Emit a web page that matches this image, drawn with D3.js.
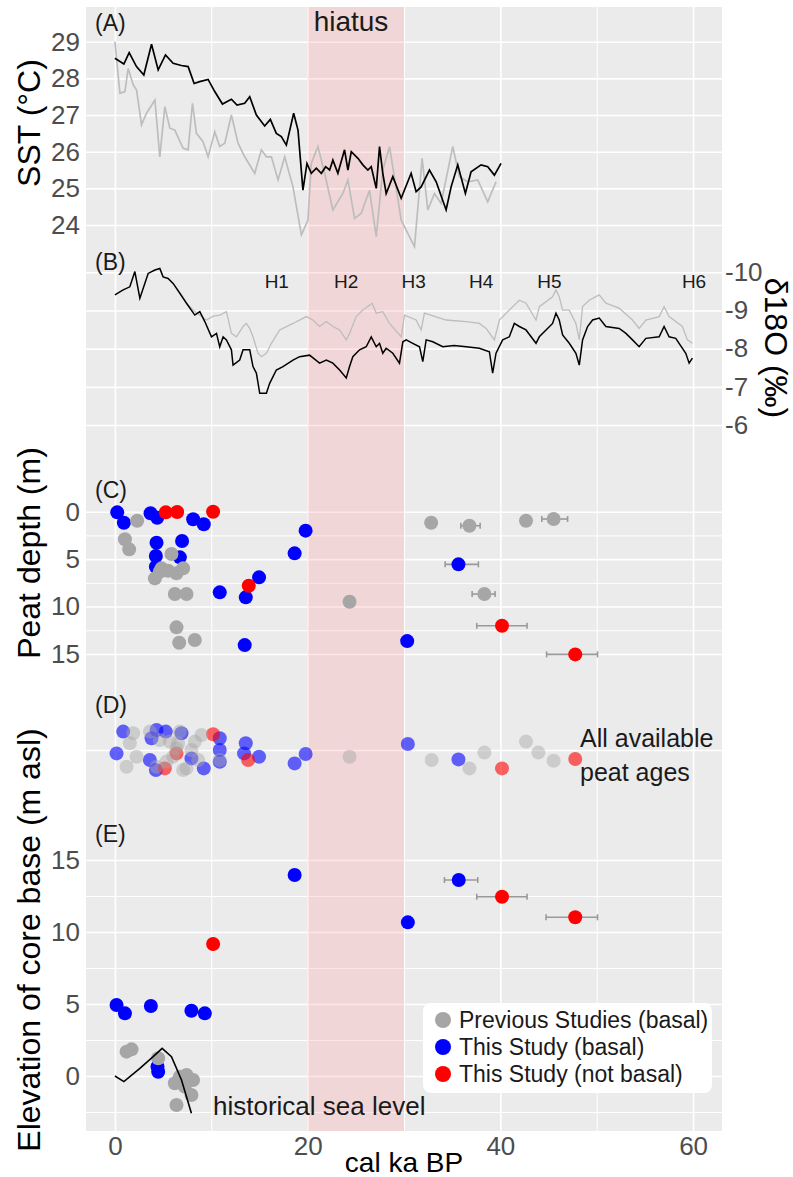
<!DOCTYPE html>
<html>
<head>
<meta charset="utf-8">
<script src="https://cdn.jsdelivr.net/npm/d3@7"></script>
<style>
  body { margin: 0; background: #fff; }
  svg text { font-family: "Liberation Sans", Arial, Helvetica, sans-serif; }
</style>
</head>
<body>
<div id="chart"></div>
<script>
// ---- data ----
// (A) SST, [age ka, degC]
const sstMain = [[0,28.55],[0.93,28.39],[1.48,28.7],[2.24,28.32],[3.0,28.09],[3.8,28.93],[4.49,28.23],[5.25,28.64],[6.04,28.41],[6.9,28.35],[7.6,28.32],[8.22,27.86],[8.8,27.91],[9.67,27.97],[10.36,27.64],[11.16,27.3],[12.09,27.43],[12.67,27.27],[13.47,27.32],[13.99,27.5],[14.68,27.0],[15.54,26.7],[16.13,26.88],[16.75,26.5],[17.27,26.41],[17.79,26.18],[18.55,27.05],[19.0,26.59],[19.51,24.95],[19.93,25.68],[20.38,25.41],[20.9,25.55],[21.42,25.41],[21.87,25.59],[22.28,25.5],[22.62,25.77],[23.14,25.41],[23.83,26.05],[24.18,25.5],[24.53,26.0],[25.22,25.82],[25.73,25.64],[26.25,25.5],[26.6,25.59],[27.12,25.0],[27.46,26.14],[27.8,25.41],[28.15,24.86],[28.84,25.32],[29.71,24.73],[30.74,25.41],[31.26,24.91],[31.78,25.04],[32.64,25.5],[33.34,25.18],[34.37,24.41],[34.89,25.04],[35.58,25.64],[36.37,24.86],[36.96,25.45],[38.0,25.64],[38.69,25.59],[39.38,25.36],[40.07,25.68]];
const sstAlt = [[0,29.0],[0.52,27.59],[1.04,27.64],[1.38,28.27],[1.9,27.82],[2.25,27.68],[2.76,26.73],[3.28,27.05],[4.15,27.41],[4.66,25.86],[5.18,27.23],[5.7,26.64],[6.22,26.59],[7.08,26.09],[7.6,26.05],[8.05,27.32],[8.46,26.5],[9.15,26.27],[9.67,25.86],[10.36,26.54],[10.88,26.14],[11.4,26.23],[12.09,27.0],[12.78,26.23],[13.47,25.86],[14.51,25.41],[15.2,26.05],[15.72,25.86],[16.24,25.86],[16.93,25.23],[17.62,25.86],[18.48,25.04],[19.35,23.73],[20.03,24.13],[20.38,25.68],[21.07,26.14],[21.76,25.41],[22.62,24.41],[23.66,24.86],[24.18,25.23],[24.87,24.18],[25.56,24.32],[26.42,24.95],[27.12,23.68],[27.8,25.5],[28.5,26.14],[29.71,24.13],[31.09,23.41],[31.88,25.82],[32.47,24.41],[33.16,24.86],[33.85,24.59],[35.06,26.14],[35.75,25.32],[36.61,25.18],[37.65,25.23],[38.69,24.63],[39.55,25.18]];

// (B) d18O, [age ka, permil]
const d18oMain = [[0,-9.41],[0.86,-9.54],[1.55,-9.62],[2.07,-10.02],[2.59,-9.32],[3.45,-9.97],[4.15,-10.06],[4.66,-10.1],[5.0,-9.88],[5.52,-9.84],[6.04,-9.71],[6.74,-9.45],[7.43,-9.19],[8.29,-8.88],[8.81,-8.97],[9.33,-8.71],[10.02,-8.31],[10.54,-8.4],[10.88,-8.05],[11.23,-8.31],[11.57,-8.23],[12.09,-7.97],[12.26,-7.57],[12.95,-7.7],[13.3,-7.97],[13.99,-7.97],[14.33,-7.53],[14.68,-7.36],[15.03,-6.83],[15.72,-6.83],[16.06,-7.09],[16.75,-7.44],[17.44,-7.53],[18.48,-7.7],[19.17,-7.79],[20.2,-7.83],[21.24,-7.62],[21.94,-7.7],[22.62,-7.62],[23.32,-7.44],[24.01,-7.23],[24.35,-7.53],[24.69,-7.79],[25.39,-7.97],[26.08,-8.05],[26.6,-8.31],[27.12,-8.05],[27.46,-8.14],[27.8,-7.88],[28.15,-8.01],[28.84,-7.88],[29.53,-7.62],[29.88,-8.18],[30.23,-8.23],[30.91,-8.14],[31.61,-8.05],[31.95,-7.66],[32.3,-8.23],[32.99,-8.18],[34.02,-8.05],[35.2,-8.08],[36.45,-8.05],[37.82,-8.01],[38.86,-7.92],[39.2,-7.36],[39.55,-7.88],[40.24,-8.23],[40.93,-8.31],[41.45,-8.66],[41.97,-8.58],[42.66,-8.49],[43.7,-8.14],[44.04,-8.31],[44.74,-8.49],[45.42,-8.66],[45.77,-8.93],[46.11,-8.75],[46.46,-8.36],[47.15,-8.14],[47.84,-7.88],[48.19,-7.57],[48.53,-8.23],[49.05,-8.58],[49.57,-8.75],[50.26,-8.8],[50.95,-8.58],[52.33,-8.53],[53.03,-8.4],[53.71,-8.23],[54.4,-8.05],[55.1,-8.27],[56.48,-8.31],[56.99,-8.58],[57.51,-8.31],[58.2,-8.27],[59.24,-7.88],[59.59,-7.62],[59.93,-7.75]];
const d18oAlt = [[7.43,-9.19],[8.29,-8.97],[9.5,-8.75],[10.2,-8.85],[10.88,-8.88],[11.57,-8.97],[12.09,-8.4],[12.61,-8.31],[13.3,-8.58],[13.64,-8.66],[13.99,-8.53],[14.33,-8.31],[14.85,-7.88],[15.2,-7.79],[15.72,-7.88],[16.24,-8.14],[17.1,-8.49],[18.48,-8.66],[19.86,-8.84],[20.55,-8.75],[21.24,-8.58],[21.94,-8.71],[22.62,-8.58],[23.32,-8.49],[24.01,-8.23],[24.35,-8.4],[25.04,-8.84],[25.73,-9.01],[26.7,-9.19],[27.12,-8.93],[27.8,-8.97],[28.5,-8.66],[29.71,-8.31],[30.05,-8.88],[31.26,-8.75],[31.78,-8.49],[32.12,-8.93],[34.37,-8.75],[36.45,-8.71],[37.82,-8.66],[38.52,-8.53],[39.38,-8.23],[39.9,-8.75],[41.45,-9.14],[41.97,-9.27],[42.66,-9.19],[43.7,-8.75],[44.04,-9.1],[45.42,-9.36],[45.77,-9.54],[46.11,-9.36],[46.46,-9.01],[47.15,-9.01],[47.84,-8.66],[48.19,-8.23],[48.53,-9.1],[49.22,-9.27],[50.26,-9.41],[50.95,-9.19],[52.33,-9.06],[53.71,-8.75],[54.4,-8.53],[55.1,-8.75],[56.48,-8.84],[56.99,-9.1],[57.51,-8.84],[58.89,-8.58],[59.41,-8.23],[59.93,-8.14]];
const heinrichNames = ["H1", "H2", "H3", "H4", "H5", "H6"];
const heinrichAges = [16.8, 24.0, 31.0, 38.0, 45.1, 60.1];

// (C) peat depth, [age ka, depth m, (age min, age max)]
const depthPrev = [[2.31,0.95],[1.04,2.91],[1.48,3.97],[5.87,4.46],[4.84,5.97],[5.52,6.22],[6.39,6.5],[7.08,5.97],[4.15,7.03],[4.66,6.33],[6.22,8.68],[7.43,8.68],[6.39,12.19],[6.67,13.82],[8.29,13.53],[24.35,9.49],[32.82,1.16],[36.79,1.48,35.9,37.9],[42.66,0.95],[45.53,0.77,44.3,46.98],[38.34,8.68,37.07,39.45]];
const depthBasal = [[0.24,0.07],[0.93,1.16],[3.7,0.17],[4.39,0.63],[8.12,0.8],[9.22,1.33],[4.32,3.27],[6.97,3.09],[4.25,4.67],[6.74,4.81],[4.25,5.8],[19.79,2.0],[18.65,4.39],[14.96,6.92],[10.88,8.5],[13.58,9.03],[13.47,14.06],[30.33,13.64],[35.65,5.55,34.27,37.72]];
const depthNotBasal = [[5.28,0.07],[6.46,0.03],[10.19,0],[13.89,7.8],[40.17,12.03,37.55,42.77],[47.77,15.04,44.8,50.08]];

// (D) all ages, [age ka, vertical jitter -1..1]
const allPrev = [[1.21,-0.84],[1.55,0.34],[1.9,0.84],[2.25,-0.34],[3.63,0.92],[4.66,0.5],[4.32,-0.84],[5.35,-0.58],[5.7,0.42],[6.04,-0.33],[6.39,0.08],[6.56,0.33],[6.74,0.92],[7.08,-1.0],[7.43,-0.92],[7.94,0],[8.29,0.42],[8.64,-0.5],[8.98,0.75],[10.88,-0.5],[24.35,-0.34],[32.87,-0.5],[36.79,-0.92],[38.34,-0.13],[42.66,0.42],[43.94,-0.13],[45.53,-0.54]];
const allBasal = [[0.86,0.92],[0.17,-0.17],[4.32,1.0],[5.28,0.92],[6.91,0.84],[3.8,0.59],[3.63,-0.5],[4.25,-1.0],[7.94,-0.42],[9.22,-0.92],[10.88,0.59],[10.88,0],[10.88,-0.59],[13.58,0.34],[13.4,-0.17],[14.96,-0.34],[18.65,-0.67],[19.79,-0.2],[30.4,0.3],[35.65,-0.47]];
const allNotBasal = [[10.19,0.79],[13.82,-0.5],[6.39,-0.17],[5.18,-0.92],[40.17,-0.92],[47.77,-0.45]];

// (E) elevation of core base, [age ka, m asl, (age min, age max)]
const elevPrev = [[1.21,1.69],[1.73,1.85],[4.49,1.23],[6.74,-0.05],[8.11,-0.28],[7.25,-0.74],[7.94,-1.32],[6.39,-2.01],[6.22,-0.5],[7.43,0.07]];
const elevBasal = [[0.17,4.93],[1.04,4.35],[3.73,4.86],[7.94,4.53],[9.33,4.35],[4.42,0.65],[4.49,0.3],[18.65,13.96],[30.4,10.67],[35.68,13.61,34.2,37.65]];
const elevNotBasal = [[10.19,9.17],[40.17,12.45,37.55,42.77],[47.77,11.02,44.74,50.08]];
const seaLevel = [[0,0],[0.93,-0.39],[2.59,0.53],[3.97,1.34],[4.9,1.92],[5.87,1.34],[6.91,-0.28],[7.94,-2.59]];

const hiatus = [20, 30];
const xTicks = [0, 20, 40, 60];
const xMinor = [10, 30, 50];
const sstTicks = [24, 25, 26, 27, 28, 29];
const d18oTicks = [-10, -9, -8, -7, -6];
const depthTicks = [0, 5, 10, 15];
const depthMinor = [2.5, 7.5, 12.5];
const elevTicks = [0, 5, 10, 15];
const elevMinor = [-2.5, 2.5, 7.5, 12.5];
const legendLabels = ["Previous Studies (basal)", "This Study (basal)", "This Study (not basal)"];
const colors = {prev: "#a6a6a6", basal: "#0000ff", notBasal: "#ff0000"};

// ---- layout ----
const width = 793, height = 1177;
const plot = {left: 86, right: 722, top: 7, bottom: 1131};
const innerW = plot.right - plot.left;

const x = d3.scaleLinear().domain([-3, 63]).range([plot.left, plot.right]);
const ySST = d3.scaleLinear().domain([24, 29]).range([225, 41.7]);
const yO = d3.scaleLinear().domain([-10, -6]).range([272.3, 425]);
const yDepth = d3.scaleLinear().domain([0, 15]).range([511.7, 654]);
const yJit = d3.scaleLinear().domain([-1, 1]).range([770, 730]);
const yElev = d3.scaleLinear().domain([0, 15]).range([1076, 860]);

const svg = d3.select("#chart").append("svg")
    .attr("width", width)
    .attr("height", height);

svg.append("rect").attr("width", width).attr("height", height).attr("fill", "#fff");

// panel background
svg.append("rect")
    .attr("x", plot.left).attr("y", plot.top)
    .attr("width", innerW).attr("height", plot.bottom - plot.top)
    .attr("fill", "#ebebeb");

// horizontal grid
function hGrid(scale, values, sw) {
    const g = svg.append("g")
        .attr("transform", `translate(${plot.left},0)`)
        .call(d3.axisLeft(scale).tickValues(values).tickSize(-innerW).tickFormat(""));
    g.select(".domain").remove();
    g.selectAll("line").attr("stroke", "#fff").attr("stroke-width", sw);
}
hGrid(ySST, sstTicks, 1.6);
hGrid(yO, d18oTicks, 1.6);
hGrid(yDepth, depthTicks, 1.6);
hGrid(yDepth, depthMinor, 1.0);
hGrid(yJit, [0], 1.6);
hGrid(yElev, elevTicks, 1.6);
hGrid(yElev, elevMinor, 1.0);

// vertical grid
function vGrid(values, sw) {
    const g = svg.append("g")
        .attr("transform", `translate(0,${plot.bottom})`)
        .call(d3.axisBottom(x).tickValues(values).tickSize(-(plot.bottom - plot.top)).tickFormat(""));
    g.select(".domain").remove();
    g.selectAll("line").attr("stroke", "#fff").attr("stroke-width", sw);
}
vGrid(xTicks, 1.6);
vGrid(xMinor, 1.0);

// hiatus band
svg.append("rect")
    .attr("x", x(hiatus[0])).attr("y", plot.top)
    .attr("width", x(hiatus[1]) - x(hiatus[0]))
    .attr("height", plot.bottom - plot.top)
    .attr("fill", "#ff9696")
    .attr("fill-opacity", 0.25);

// ---- axis labels ----
const plain = d => String(d);
function labelAxis(axis, tx, ty, size) {
    const g = svg.append("g").attr("transform", `translate(${tx},${ty})`).call(axis.tickFormat(plain));
    g.select(".domain").remove();
    g.selectAll("line").remove();
    g.selectAll("text")
        .attr("font-family", "Liberation Sans, Arial, sans-serif")
        .attr("font-size", size)
        .attr("fill", "#4d4d4d");
    return g;
}
labelAxis(d3.axisLeft(ySST).tickValues(sstTicks).tickSize(0).tickPadding(6), plot.left, 0, 26);
labelAxis(d3.axisLeft(yDepth).tickValues(depthTicks).tickSize(0).tickPadding(6), plot.left, 0, 26);
labelAxis(d3.axisLeft(yElev).tickValues(elevTicks).tickSize(0).tickPadding(6), plot.left, 0, 26);
labelAxis(d3.axisRight(yO).tickValues(d18oTicks).tickSize(0).tickPadding(3), plot.right, 0, 26);
labelAxis(d3.axisBottom(x).tickValues(xTicks).tickSize(0).tickPadding(6), 0, plot.bottom, 26);

// axis titles
function title(text, tx, ty, rot, size) {
    svg.append("text")
        .attr("transform", `translate(${tx},${ty}) rotate(${rot})`)
        .attr("text-anchor", "middle")
        .attr("font-size", size)
        .attr("fill", "#000")
        .text(text);
}
title("SST (°C)", 40, 123, -90, 32);
title("Peat depth (m)", 40, 553, -90, 32);
title("Elevation of core base (m asl)", 40, 940, -90, 32);
title("δ18O (‰)", 765, 348, 90, 32);
title("cal ka BP", (plot.left + plot.right) / 2, 1172, 0, 28);

// panel labels
const panelLabels = [["(A)", 31], ["(B)", 270], ["(C)", 498], ["(D)", 713], ["(E)", 842]];
panelLabels.forEach(([t, yy]) => {
    svg.append("text").attr("x", 95).attr("y", yy)
        .attr("font-size", 23).attr("fill", "#1a1a1a").text(t);
});
svg.append("text").attr("x", x(hiatus[0]) + 6).attr("y", 31)
    .attr("font-size", 28).attr("fill", "#1a1a1a").text("hiatus");

// ---- (A) SST lines ----
const lineSST = d3.line().x(d => x(d[0])).y(d => ySST(d[1]));
svg.append("path").datum(sstAlt).attr("d", lineSST)
    .attr("fill", "none").attr("stroke", "#bdbdbd").attr("stroke-width", 1.7);
svg.append("path").datum(sstMain).attr("d", lineSST)
    .attr("fill", "none").attr("stroke", "#000").attr("stroke-width", 1.7);

// ---- (B) d18O lines ----
const lineO = d3.line().x(d => x(d[0])).y(d => yO(d[1]));
svg.append("path").datum(d18oAlt).attr("d", lineO)
    .attr("fill", "none").attr("stroke", "#bdbdbd").attr("stroke-width", 1.3);
svg.append("path").datum(d18oMain).attr("d", lineO)
    .attr("fill", "none").attr("stroke", "#000").attr("stroke-width", 1.5);
svg.selectAll(".hlabel").data(heinrichNames).enter().append("text")
    .attr("x", (d, i) => x(heinrichAges[i]))
    .attr("y", 288)
    .attr("text-anchor", "middle")
    .attr("font-size", 19).attr("fill", "#1a1a1a")
    .text(d => d);

// ---- points with error bars ----
function errorBars(data, yScale) {
    const withErr = data.filter(d => d.length > 2);
    const g = svg.append("g").attr("stroke", "#9a9a9a").attr("stroke-width", 1.6);
    withErr.forEach(d => {
        const yy = yScale(d[1]);
        g.append("line").attr("x1", x(d[2])).attr("x2", x(d[3])).attr("y1", yy).attr("y2", yy);
        g.append("line").attr("x1", x(d[2])).attr("x2", x(d[2])).attr("y1", yy - 3).attr("y2", yy + 3);
        g.append("line").attr("x1", x(d[3])).attr("x2", x(d[3])).attr("y1", yy - 3).attr("y2", yy + 3);
    });
}
function points(data, yScale, color, opacity) {
    svg.append("g").selectAll("circle").data(data).enter().append("circle")
        .attr("cx", d => x(d[0]))
        .attr("cy", d => yScale(d[1]))
        .attr("r", 7)
        .attr("fill", color)
        .attr("fill-opacity", opacity);
}

// (C)
errorBars(depthPrev, yDepth);
errorBars(depthBasal, yDepth);
errorBars(depthNotBasal, yDepth);
points(depthBasal, yDepth, colors.basal, 1);
points(depthNotBasal, yDepth, colors.notBasal, 1);
points(depthPrev, yDepth, colors.prev, 1);

// (D)
points(allBasal, yJit, colors.basal, 0.6);
points(allNotBasal, yJit, colors.notBasal, 0.6);
points(allPrev, yJit, colors.prev, 0.45);
svg.append("text").attr("x", 580).attr("y", 747)
    .attr("font-size", 25).attr("fill", "#1a1a1a").text("All available");
svg.append("text").attr("x", 580).attr("y", 781)
    .attr("font-size", 25).attr("fill", "#1a1a1a").text("peat ages");

// (E)
errorBars(elevBasal, yElev);
errorBars(elevNotBasal, yElev);
points(elevBasal, yElev, colors.basal, 1);
points(elevNotBasal, yElev, colors.notBasal, 1);
points(elevPrev, yElev, colors.prev, 1);
svg.append("path").datum(seaLevel)
    .attr("d", d3.line().x(d => x(d[0])).y(d => yElev(d[1])))
    .attr("fill", "none").attr("stroke", "#000").attr("stroke-width", 1.6);
svg.append("text").attr("x", 213).attr("y", 1115)
    .attr("font-size", 26).attr("fill", "#1a1a1a").text("historical sea level");

// ---- legend ----
const legend = svg.append("g").attr("transform", "translate(423,1003)");
legend.append("rect").attr("width", 289).attr("height", 90).attr("rx", 8).attr("fill", "#fff");
const legendColors = [colors.prev, colors.basal, colors.notBasal];
legendLabels.forEach((lab, i) => {
    const row = legend.append("g").attr("transform", `translate(0,${17 + i * 27})`);
    row.append("circle").attr("cx", 20).attr("cy", 0).attr("r", 8).attr("fill", legendColors[i]);
    row.append("text").attr("x", 36).attr("y", 8)
        .attr("font-size", 23).attr("fill", "#1a1a1a").text(lab);
});
</script>
</body>
</html>
